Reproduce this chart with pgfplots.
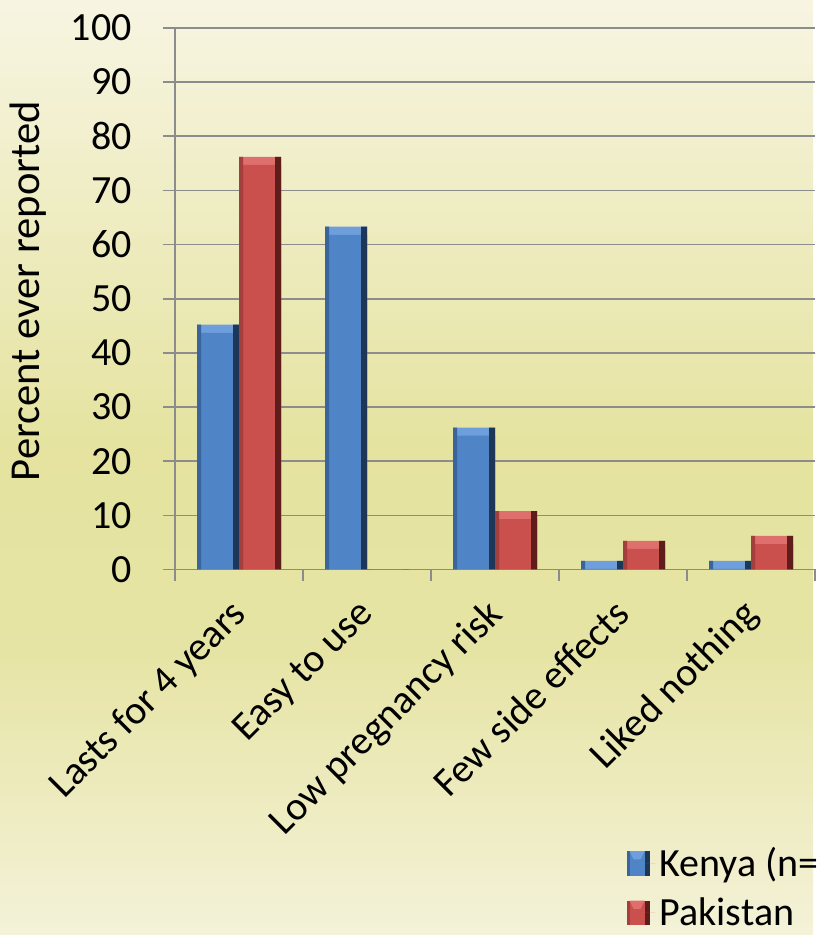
\documentclass[border=0pt]{standalone}
\usepackage{pgfplots}
\usepackage{pgfplotstable}
\pgfplotsset{compat=1.18}
\usepackage{fontspec}
\setmainfont{Carlito}

% palette
\definecolor{bgA}{HTML}{F7F5E2}
\definecolor{bgB}{HTML}{EFEDC4}
\definecolor{bgC}{HTML}{E5E39F}
\definecolor{bgD}{HTML}{E6E4A4}
\definecolor{bgE}{HTML}{F4F2D8}
\definecolor{gridgray}{HTML}{8C8C8C}
\definecolor{kL}{HTML}{3A649C}
\definecolor{kM}{HTML}{4F84C6}
\definecolor{kT}{HTML}{6E9FDC}
\definecolor{kR}{HTML}{1E3657}
\definecolor{pL}{HTML}{A3403D}
\definecolor{pM}{HTML}{C9504D}
\definecolor{pT}{HTML}{DE6F6C}
\definecolor{pR}{HTML}{5E1D1B}

\pgfplotstableread{
cat kenya pakistan
0   45.2  76.2
1   63.3  0
2   26.2  10.8
3   1.6   5.3
4   1.6   6.2
}\liked

\begin{document}
\begin{tikzpicture}
% backdrop
\fill[top color=bgA, bottom color=bgB] (0,367.5pt) rectangle (406.5pt,467.5pt);
\fill[top color=bgB, bottom color=bgC] (0,242.5pt) rectangle (406.5pt,367.6pt);
\fill[top color=bgC, bottom color=bgD] (0,142.5pt) rectangle (406.5pt,242.6pt);
\fill[top color=bgD, bottom color=bgE] (0,0) rectangle (406.5pt,142.6pt);

\begin{axis}[
  at={(87.5pt,182.75pt)}, anchor=south west,
  scale only axis, width=320pt, height=270.75pt,
  font=\fontsize{20}{24}\selectfont,
  ybar, bar width=21pt,
  xmin=-0.5, xmax=4.5, ymin=0, ymax=100,
  ytick={0,10,...,100},
  xtick={-0.5,0.5,...,4.5}, xticklabels={},
  extra x ticks={0,...,4},
  extra x tick labels={Lasts for 4 years, Easy to use, Low pregnancy risk, Few side effects, Liked nothing},
  extra x tick style={major tick length=0pt},
  axis lines=left, axis line style={-, gridgray, line width=0.8pt},
  ymajorgrids, grid style={gridgray, line width=0.8pt},
  tick style={gridgray, line width=0.8pt},
  tick align=outside,
  major tick length=6pt,
  /pgf/number format/assume math mode=true,
  yticklabel style={anchor=east, inner sep=0pt, xshift=-15.5pt},
  xticklabel style={xshift=-5.3pt, yshift=-13.4pt, rotate=45, anchor=north east, inner sep=0pt},
  ylabel={Percent ever reported},
  every axis y label/.style={at={(axis description cs:-0.2297,0.514)}, rotate=90, anchor=center,
    font=\fontsize{21.3}{25}\selectfont},
  legend style={at={(axis description cs:0.705,-0.505)}, anchor=north west, draw=none, fill=none,
    font=\fontsize{20}{24}\selectfont, row sep=5pt, inner sep=0pt},
  legend cell align=left,
]
% Kenya: bevelled top, face, darker rims
\addplot[forget plot, draw=none, fill=kT, bar shift=-10.5pt]
  table[x=cat, y=kenya] {\liked};
\addplot[draw=none, fill=kM, bar shift=-10.5pt,
  legend image code/.code={\fill[kM] (0pt,-6.2pt) rectangle (11.5pt,6.2pt);
    \fill[kR] (9pt,-6.2pt) rectangle (11.5pt,6.2pt);
    \fill[kL] (0pt,-6.2pt) rectangle (1.5pt,6.2pt);
    \fill[kT] (1.5pt,6.2pt) -- (9pt,6.2pt) -- (7pt,2pt) -- (3.5pt,2pt) -- cycle;
    \path (0pt,0pt) -- (14.5pt,0pt);}]
  table[x=cat, y expr={max(\thisrow{kenya}-1.5,0)}] {\liked};
\addlegendentry{Kenya (n=}
\addplot[forget plot, draw=none, fill=kL, bar width=2pt, bar shift=-20pt]
  table[x=cat, y=kenya] {\liked};
\addplot[forget plot, draw=none, fill=kR, bar width=3pt, bar shift=-1.5pt]
  table[x=cat, y=kenya] {\liked};
% Pakistan: bevelled top, face, darker rims
\addplot[forget plot, draw=none, fill=pT, bar shift=10.5pt]
  table[x=cat, y=pakistan] {\liked};
\addplot[draw=none, fill=pM, bar shift=10.5pt,
  legend image code/.code={\fill[pM] (0pt,-6.2pt) rectangle (11.5pt,6.2pt);
    \fill[pR] (9pt,-6.2pt) rectangle (11.5pt,6.2pt);
    \fill[pL] (0pt,-6.2pt) rectangle (1.5pt,6.2pt);
    \fill[pT] (1.5pt,6.2pt) -- (9pt,6.2pt) -- (7pt,2pt) -- (3.5pt,2pt) -- cycle;
    \path (0pt,0pt) -- (14.5pt,0pt);}]
  table[x=cat, y expr={max(\thisrow{pakistan}-1.5,0)}] {\liked};
\addlegendentry{Pakistan}
\addplot[forget plot, draw=none, fill=pL, bar width=2pt, bar shift=1pt]
  table[x=cat, y=pakistan] {\liked};
\addplot[forget plot, draw=none, fill=pR, bar width=3pt, bar shift=19.5pt]
  table[x=cat, y=pakistan] {\liked};
\end{axis}
\end{tikzpicture}
\end{document}
